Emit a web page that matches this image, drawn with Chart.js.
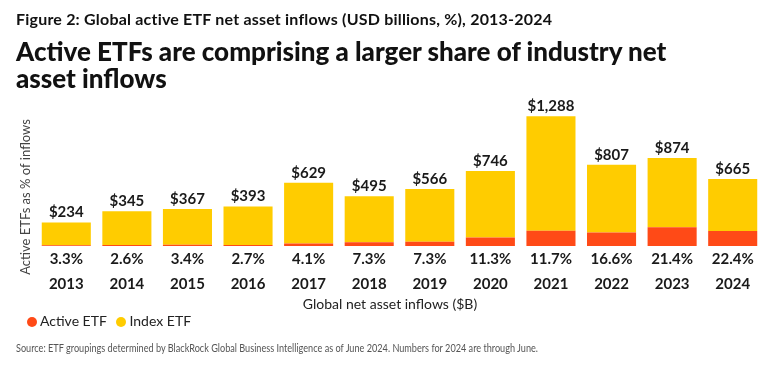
<!DOCTYPE html>
<html>
<head>
<meta charset="utf-8">
<script src="https://cdn.jsdelivr.net/npm/chart.js@4.4.1/dist/chart.umd.min.js"></script>
<style>
  html, body { margin: 0; padding: 0; background: #fff; }
  body { width: 780px; height: 377px; position: relative; overflow: hidden; font-family: Lato, "Open Sans", sans-serif; color: #111; }
  #chart { position: absolute; left: 0; top: 0; }
  .fig { position: absolute; left: 16px; top: 9px; font-weight: 700; font-size: 16px; letter-spacing: 0.2px; white-space: nowrap; }
  .title { position: absolute; left: 16px; top: 38px; font-weight: 900; font-size: 26px; line-height: 27px; }
  .legend { position: absolute; left: 27px; top: 312px; font-size: 14px; color: #222; white-space: nowrap; }
  .legend span.dot { display: inline-block; width: 10px; height: 10px; border-radius: 50%; vertical-align: -1px; margin-right: 3px; }
  .legend span.item { margin-right: 6px; }
  .source { position: absolute; left: 16px; top: 341px; font-size: 11px; color: #555; white-space: nowrap; transform: scaleX(0.83); transform-origin: left top; }
</style>
</head>
<body>
<canvas id="chart" width="780" height="377"></canvas>
<div class="fig">Figure 2: Global active ETF net asset inflows (USD billions, %), 2013-2024</div>
<div class="title">Active ETFs are comprising a larger share of industry net<br>asset inflows</div>
<div class="legend">
  <span class="item"><span class="dot" style="background:#FF4A17"></span>Active ETF</span>
  <span class="item"><span class="dot" style="background:#FFCC00"></span>Index ETF</span>
</div>
<div class="source">Source: ETF groupings determined by BlackRock Global Business Intelligence as of June 2024. Numbers for 2024 are through June.</div>
<script>
// Years on the x axis
var years = ['2013', '2014', '2015', '2016', '2017', '2018', '2019', '2020', '2021', '2022', '2023', '2024'];
// Total global ETF net asset inflows, $B
var totalInflows = [234, 345, 367, 393, 629, 495, 566, 746, 1288, 807, 874, 665];
// Active ETFs as % of inflows
var activeShare = [3.3, 2.6, 3.4, 2.7, 4.1, 7.3, 7.3, 11.3, 11.7, 16.6, 21.4, 22.4];

var activeValues = totalInflows.map(function (t, i) { return t * activeShare[i] / 100; });
var indexValues = totalInflows.map(function (t, i) { return t - activeValues[i]; });

var labelsPlugin = {
    id: 'barLabels',
    afterDatasetsDraw: function (chart) {
        var ctx = chart.ctx;
        var x = chart.scales.x;
        var y = chart.scales.y;
        ctx.save();
        ctx.fillStyle = '#1a1a1a';
        ctx.textAlign = 'center';
        ctx.textBaseline = 'middle';
        ctx.font = '700 15px Lato, sans-serif';
        totalInflows.forEach(function (v, i) {
            var px = x.getPixelForValue(i);
            ctx.fillText('$' + v.toLocaleString('en-US'), px, y.getPixelForValue(v) - 10);
            ctx.fillText(activeShare[i].toFixed(1) + '%', px, y.getPixelForValue(0) + 13);
        });
        // axis titles
        ctx.font = '400 14px Lato, sans-serif';
        ctx.fillStyle = '#222';
        ctx.fillText('Global net asset inflows ($B)', 390, 304);
        ctx.translate(26, 197);
        ctx.rotate(-Math.PI / 2);
        ctx.font = '400 13px Lato, sans-serif';
        ctx.fillStyle = '#444';
        ctx.fillText('Active ETFs as % of inflows', 0, 0);
        ctx.restore();
    }
};

new Chart(document.getElementById('chart'), {
    type: 'bar',
    data: {
        labels: years,
        datasets: [
            { label: 'Active ETF', data: activeValues, backgroundColor: '#FF4A17' },
            { label: 'Index ETF', data: indexValues, backgroundColor: '#FFCC00' }
        ]
    },
    options: {
        responsive: false,
        animation: false,
        layout: { padding: { left: 36, right: 17, top: 100, bottom: 63 } },
        datasets: { bar: { categoryPercentage: 0.81, barPercentage: 1 } },
        plugins: { legend: { display: false }, tooltip: { enabled: false } },
        scales: {
            x: {
                stacked: true,
                grid: { display: false },
                border: { display: false },
                ticks: { padding: 21, color: '#1a1a1a', font: { family: 'Lato', size: 15, weight: '700' } }
            },
            y: {
                stacked: true,
                display: false,
                min: 0,
                max: 1450
            }
        }
    },
    plugins: [labelsPlugin]
});
</script>
</body>
</html>
